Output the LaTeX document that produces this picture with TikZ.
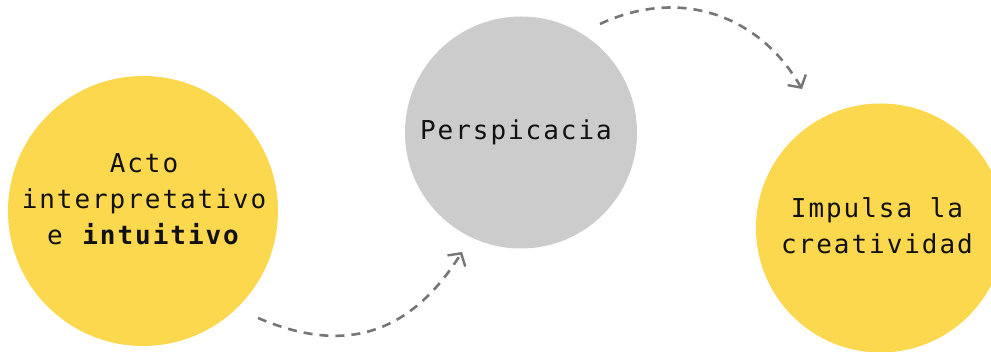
\documentclass[tikz,border=0pt]{standalone}
\usepackage{fontspec}
\usetikzlibrary{arrows.meta}
\newfontfamily\diagmono[LetterSpace=7.5]{DejaVu Sans Mono}
\definecolor{sunyellow}{HTML}{FCD84E}
\definecolor{softgray}{HTML}{CCCCCC}
\definecolor{dashgray}{HTML}{767676}
\definecolor{inkblack}{HTML}{111111}
\tikzset{
  blob/.style={circle, inner sep=0pt, draw=none},
  label text/.style={font=\diagmono\fontsize{26}{36}\selectfont, text=inkblack, align=center, inner sep=0pt},
  flow/.style={draw=dashgray, line width=2.6pt, dash pattern=on 9pt off 7pt,
    -{Straight Barb[length=9pt,width=21pt,line width=2.4pt]}}
}
\begin{document}
\begin{tikzpicture}[x=1pt,y=1pt]
\clip (0,0) rectangle (991,-352);
\fill[white] (0,0) rectangle (991,-352);
% circles
\node[blob, fill=sunyellow, minimum size=270pt] (acto) at (143,-211) {};
\node[blob, fill=softgray, minimum size=232pt] (persp) at (521,-132.5) {};
\node[blob, fill=sunyellow, minimum size=249pt] (impulsa) at (880.5,-228) {};
% texts
\node[label text] (actotext) at (144,-199) {Acto\\interpretativo\\e \textbf{intuitivo}};
\node[label text, anchor=base] (persptext) at (516,-139.3) {Perspicacia};
\node[label text] (impulsatext) at (877,-225.7) {Impulsa la\\creatividad};
% connectors
\coordinate (f1s) at (258,-318);
\coordinate (f1e) at (462,-252);
\coordinate (f2s) at (600,-24);
\coordinate (f2e) at (802,-89);
\draw[flow] (f1s) .. controls (327,-347.3) and (401,-349.5) .. (f1e);
\draw[flow] (f2s) .. controls (678.8,12.8) and (758.5,-13.7) .. (f2e);
\end{tikzpicture}
\end{document}
